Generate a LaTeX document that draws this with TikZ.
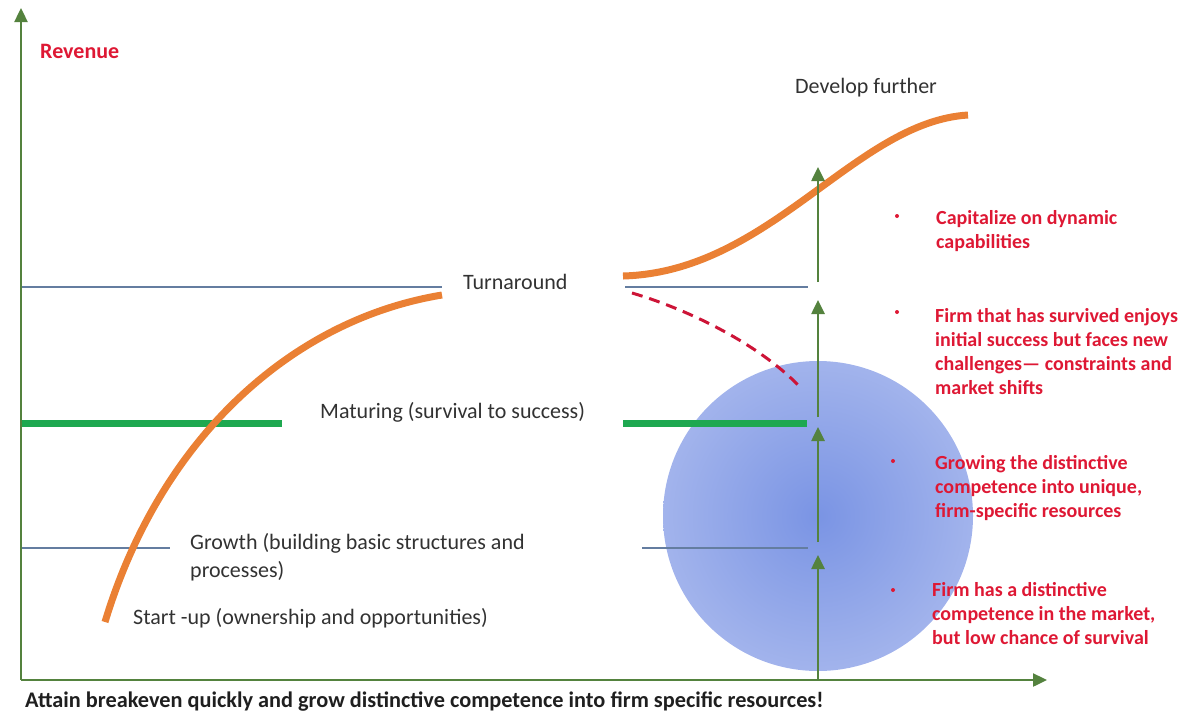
\documentclass[tikz,border=0pt]{standalone}
\usepackage{fontspec}
\setmainfont{Carlito}
\usetikzlibrary{arrows.meta}
\definecolor{axisgreen}{RGB}{84,130,62}
\definecolor{curveorange}{RGB}{234,128,52}
\definecolor{matgreen}{RGB}{30,168,80}
\definecolor{levelblue}{RGB}{100,125,160}
\definecolor{redtxt}{RGB}{222,24,52}
\definecolor{dashred}{RGB}{205,20,55}
\definecolor{txtgray}{RGB}{50,50,50}
\definecolor{blobin}{RGB}{122,148,228}
\definecolor{blobout}{RGB}{202,211,244}
\pgfdeclareradialshading{blob}{\pgfpoint{0bp}{0bp}}{color(0bp)=(blobin); color(50bp)=(blobout)}
\tikzset{
  level/.style={draw=levelblue, line width=1.3pt},
  matline/.style={draw=matgreen, line width=7pt},
  revcurve/.style={draw=curveorange, line width=7pt},
  risk/.style={draw=dashred, line width=3pt, dash pattern=on 11pt off 7pt},
  upar/.style={draw=axisgreen, line width=2.6pt, -{Triangle[width=13pt,length=14pt]}},
  axisline/.style={draw=axisgreen, line width=2.4pt, -{Triangle[width=13pt,length=14pt]}},
  lbl/.style={text=txtgray, font=\fontsize{22}{28}\selectfont, inner sep=0pt, anchor=base west, align=left},
  redlbl/.style={text=redtxt, font=\bfseries\fontsize{20}{24}\selectfont, inner sep=0pt, anchor=base west, align=left},
  bulletdot/.style={circle, fill=redtxt, inner sep=0pt, minimum size=4pt},
}
\begin{document}
\begin{tikzpicture}[x=1pt,y=-1pt]
\useasboundingbox (0,0) rectangle (1181,713);
% circle
\shade[shading=blob] (818,516) circle (155);
% coordinates
\coordinate (O) at (21,680);
\coordinate (ytop) at (21,8);
\coordinate (xend) at (1047,680);
\coordinate (tL1) at (20,287); \coordinate (tL2) at (442,287);
\coordinate (tR1) at (625,287); \coordinate (tR2) at (808,287);
\coordinate (mL1) at (20,423); \coordinate (mL2) at (282,423);
\coordinate (mR1) at (623,423); \coordinate (mR2) at (807,423);
\coordinate (gL1) at (20,548); \coordinate (gL2) at (170,548);
\coordinate (gR1) at (642,548); \coordinate (gR2) at (808,548);
\coordinate (a0) at (818,680); \coordinate (a1) at (818,555);
\coordinate (b0) at (818,542); \coordinate (b1) at (818,427);
\coordinate (c0) at (818,417); \coordinate (c1) at (818,300);
\coordinate (d0) at (818,282); \coordinate (d1) at (818,167);
\coordinate (oL0) at (105,622); \coordinate (oL1) at (442,295);
\coordinate (oR0) at (623,276); \coordinate (oR1) at (968,115);
\coordinate (r0) at (632,293); \coordinate (r1) at (800,387);
% level lines
\draw[level] (tL1) -- (tL2);
\draw[level] (tR1) -- (tR2);
\draw[level] (gL1) -- (gL2);
\draw[level] (gR1) -- (gR2);
\draw[matline] (mL1) -- (mL2);
\draw[matline] (mR1) -- (mR2);
% curves
\draw[revcurve] (oL0) .. controls (160,440) and (290,320) .. (oL1);
\draw[revcurve] (oR0) .. controls (770,272) and (855,122) .. (oR1);
\draw[risk] (r0) .. controls (690,310) and (760,345) .. (r1);
% arrows
\draw[upar] (a0) -- (a1);
\draw[upar] (b0) -- (b1);
\draw[upar] (c0) -- (c1);
\draw[upar] (d0) -- (d1);
\draw[axisline] (O) -- (ytop);
\draw[axisline] (O) -- (xend);
% labels (base = baseline of last line)
\node[redlbl, font=\bfseries\fontsize{22}{24}\selectfont] (rev) at (40,58) {Revenue};
\node[lbl] (dev) at (795,93) {Develop further};
\node[lbl] (turn) at (463,289) {Turnaround};
\node[lbl] (mat) at (320,418) {Maturing (survival to success)};
\node[lbl] (grow) at (190,577) {Growth (building basic structures and\\processes)};
\node[lbl] (start) at (133,624) {Start -up (ownership and opportunities)};
\node[lbl, font=\bfseries\fontsize{22.3}{24}\selectfont, text=black!88] (goal) at (25,707) {Attain breakeven quickly and grow distinctive competence into firm specific resources!};
\node[redlbl] (t1) at (936,248) {Capitalize on dynamic\\capabilities};
\node[redlbl] (t2) at (935,394) {Firm that has survived enjoys\\initial success but faces new\\challenges— constraints and\\market shifts};
\node[redlbl] (t3) at (935,517) {Growing the distinctive\\competence into unique,\\firm-specific resources};
\node[redlbl] (t4) at (932,644) {Firm has a distinctive\\competence in the market,\\but low chance of survival};
\node[bulletdot] (b1dot) at (897,216) {};
\node[bulletdot] (b2dot) at (897,312) {};
\node[bulletdot] (b3dot) at (893,461) {};
\node[bulletdot] (b4dot) at (893,590) {};
\end{tikzpicture}
\end{document}
